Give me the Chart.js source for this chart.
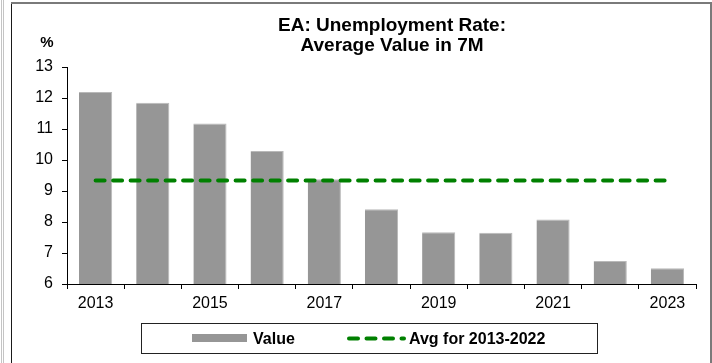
<!DOCTYPE html>
<html>
<head>
<meta charset="utf-8">
<script src="https://cdn.jsdelivr.net/npm/chart.js@4.4.1/dist/chart.umd.min.js"></script>
<style>
  html, body { margin: 0; padding: 0; background: #fff; }
  canvas { display: block; }
</style>
</head>
<body>
<canvas id="ea-unemployment-chart" width="712" height="363"></canvas>
<script>
// EA unemployment rate, average value over the first 7 months of each year
const years = ['2013', '2014', '2015', '2016', '2017', '2018', '2019', '2020', '2021', '2022', '2023'];
const rateValues = [12.19, 11.85, 11.18, 10.29, 9.38, 8.41, 7.67, 7.65, 8.08, 6.74, 6.51];
const avgValues = [9.34, 9.34, 9.34, 9.34, 9.34, 9.34, 9.34, 9.34, 9.34, 9.34, 9.34];
const yMin = 6;
const yMax = 13;

const FONT = "'Liberation Sans', Arial, sans-serif";
const BAR_GREY = '#969696';
const AVG_GREEN = '#008000';

// white background + the thin frame lines round the picture
const framePlugin = {
  id: 'frame',
  beforeDraw(chart) {
    const c = chart.ctx;
    c.save();
    c.fillStyle = '#fff';
    c.fillRect(0, 0, chart.width, chart.height);
    c.fillStyle = '#c4c4c4';
    c.fillRect(1, 0, 1, chart.height);
    c.fillRect(3, 0, 1, chart.height);
    c.fillStyle = '#1a1a1a';
    c.fillRect(11, 3, 1, chart.height - 3);
    c.fillStyle = '#7a7a7a';
    c.fillRect(11, 2, chart.width - 11, 2);
    c.fillRect(chart.width - 2, 2, 2, chart.height - 2);
    c.restore();
  }
};

// title, unit label and the boxed legend
const textPlugin = {
  id: 'texts',
  afterDraw(chart) {
    const c = chart.ctx;
    c.save();
    c.fillStyle = '#000';
    c.textAlign = 'center';
    c.textBaseline = 'alphabetic';
    c.font = 'bold 19px ' + FONT;
    c.fillText('EA: Unemployment Rate:', 392, 31);
    c.fillText('Average Value in 7M', 392, 51);

    c.font = 'bold 15px ' + FONT;
    c.fillText('%', 47, 47);

    // legend box
    c.strokeStyle = '#222';
    c.lineWidth = 1;
    c.strokeRect(141.5, 323.5, 456, 30);

    c.fillStyle = BAR_GREY;
    c.fillRect(192, 334, 55, 8);

    c.strokeStyle = AVG_GREEN;
    c.lineWidth = 4;
    c.lineCap = 'round';
    c.setLineDash([9, 8.5]);
    c.beginPath();
    c.moveTo(349, 338.5);
    c.lineTo(404, 338.5);
    c.stroke();
    c.setLineDash([]);

    c.fillStyle = '#000';
    c.textAlign = 'left';
    c.font = 'bold 16px ' + FONT;
    c.fillText('Value', 253, 344);
    c.fillText('Avg for 2013-2022', 409, 344);
    c.restore();
  }
};

new Chart(document.getElementById('ea-unemployment-chart'), {
  data: {
    labels: years,
    datasets: [
      {
        type: 'line',
        label: 'Avg for 2013-2022',
        data: avgValues,
        borderColor: AVG_GREEN,
        borderWidth: 4,
        borderDash: [9, 8.5],
        borderCapStyle: 'round',
        pointRadius: 0,
        fill: false,
        order: 0
      },
      {
        type: 'bar',
        label: 'Value',
        data: rateValues,
        backgroundColor: BAR_GREY,
        borderColor: '#b9b9b9',
        borderWidth: { right: 1, top: 1, left: 0, bottom: 0 },
        barPercentage: 0.58,
        categoryPercentage: 1,
        order: 1
      }
    ]
  },
  options: {
    responsive: false,
    animation: false,
    devicePixelRatio: 1,
    layout: { padding: { left: 0, right: 16, top: 67, bottom: 0 } },
    plugins: {
      legend: { display: false },
      title: { display: false },
      tooltip: { enabled: false }
    },
    scales: {
      x: {
        offset: true,
        grid: { display: true, drawOnChartArea: false, drawTicks: true, tickLength: 5, offset: true, color: '#000' },
        border: { display: true, color: '#000', width: 1 },
        ticks: {
          autoSkip: false,
          maxRotation: 0,
          padding: 5,
          color: '#000',
          font: { family: FONT, size: 16 },
          callback: function (value, index) {
            return index % 2 === 0 ? this.getLabelForValue(value) : '';
          }
        },
        afterFit(scale) { scale.height = 79; }
      },
      y: {
        min: yMin,
        max: yMax,
        grid: { display: true, drawOnChartArea: false, drawTicks: true, tickLength: 5, color: '#000' },
        border: { display: true, color: '#000', width: 1 },
        ticks: {
          stepSize: 1,
          padding: 9,
          color: '#000',
          font: { family: FONT, size: 16 }
        },
        afterFit(scale) { scale.width = 67; }
      }
    }
  },
  plugins: [framePlugin, textPlugin]
});
</script>
</body>
</html>
